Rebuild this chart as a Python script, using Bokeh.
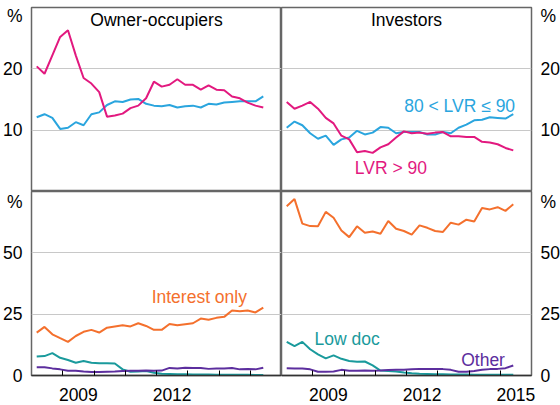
from bokeh.plotting import figure
from bokeh.layouts import gridplot
from bokeh.models import FixedTicker, CustomJSTickFormatter, Label
from bokeh.embed import file_html
from bokeh.resources import INLINE

# Quarterly observations, March 2008 to June 2015
months = [f"{y}-{m:02d}" for y in range(2008, 2016) for m in (3, 6, 9, 12)][:30]

# Owner-occupiers, LVR shares (%)
oo_lvr_gt90 = [20.4, 19.2, 22.2, 25.2, 26.3, 22.2, 18.5, 17.6, 16.2, 12.2,
               12.4, 12.7, 13.6, 14.0, 15.2, 17.9, 17.1, 17.4, 18.3, 17.4,
               17.4, 16.6, 17.3, 16.6, 16.5, 15.5, 15.2, 14.5, 14.0, 13.7]
oo_lvr_80_90 = [12.1, 12.6, 12.0, 10.2, 10.4, 11.3, 10.8, 12.6, 12.9, 14.1,
                14.7, 14.6, 15.0, 15.1, 14.3, 14.0, 13.9, 14.1, 13.7, 13.9,
                14.0, 13.7, 14.3, 14.2, 14.5, 14.6, 14.7, 14.7, 14.7, 15.5]
# Investors, LVR shares (%)
inv_lvr_gt90 = [14.6, 13.5, 14.0, 14.6, 13.5, 12.0, 11.1, 9.1, 8.5, 6.4,
                6.6, 6.3, 7.2, 7.7, 8.8, 9.8, 9.5, 9.6, 9.4, 9.6,
                9.7, 9.0, 9.0, 8.9, 8.9, 8.1, 8.0, 7.7, 7.1, 6.7]
inv_lvr_80_90 = [10.4, 11.4, 10.8, 9.5, 8.6, 9.1, 7.6, 8.5, 8.8, 9.9,
                 9.3, 9.6, 10.5, 10.4, 9.5, 9.7, 9.7, 9.7, 9.3, 9.3,
                 9.7, 9.5, 10.4, 10.9, 11.6, 11.7, 12.1, 12.0, 11.9, 12.6]
# Owner-occupiers, loan types (%)
oo_interest_only = [17.5, 19.8, 16.8, 15.2, 13.7, 16.1, 17.8, 18.6, 17.5, 19.5,
                    20.0, 20.5, 20.0, 21.3, 20.2, 18.6, 18.6, 21.0, 20.5, 20.9,
                    21.3, 23.2, 22.7, 23.5, 23.9, 26.5, 26.2, 26.5, 25.7, 27.7]
oo_low_doc = [7.7, 7.9, 9.1, 7.2, 6.3, 5.2, 5.9, 5.2, 5.0, 5.0,
              4.9, 2.5, 1.5, 1.6, 1.8, 1.1, 0.7, 0.6, 0.5, 0.5,
              0.4, 0.4, 0.4, 0.3, 0.3, 0.3, 0.3, 0.3, 0.2, 0.2]
oo_other = [3.4, 3.4, 2.9, 2.5, 1.9, 1.9, 1.6, 1.4, 1.4, 1.5,
            1.6, 1.8, 1.9, 1.9, 2.0, 1.9, 2.0, 3.1, 2.9, 3.2,
            3.1, 3.1, 2.7, 2.9, 2.9, 3.1, 2.5, 2.6, 2.5, 3.2]
# Investors, loan types (%)
inv_interest_only = [69.0, 71.9, 61.9, 60.9, 60.8, 66.7, 64.3, 59.1, 56.4, 60.8,
                     58.2, 58.7, 57.8, 63.0, 59.8, 58.9, 57.4, 61.2, 60.2, 58.9,
                     58.5, 62.3, 61.5, 63.5, 62.8, 68.3, 67.7, 68.6, 67.1, 69.8]
inv_low_doc = [13.7, 12.0, 13.7, 10.7, 8.6, 7.0, 8.2, 6.8, 5.9, 5.6,
               5.7, 4.1, 2.0, 1.8, 1.6, 1.2, 0.9, 0.7, 0.6, 0.5,
               0.5, 0.4, 0.4, 0.4, 0.3, 0.3, 0.3, 0.3, 0.3, 0.3]
inv_other = [3.0, 2.9, 2.9, 2.5, 1.5, 1.5, 1.6, 2.3, 1.9, 1.9,
             2.0, 1.9, 2.0, 2.2, 2.3, 2.3, 2.5, 2.7, 2.7, 2.7,
             2.6, 2.3, 1.5, 1.5, 1.8, 2.3, 2.6, 2.7, 3.0, 4.1]

top_ticks = [10, 20]
bottom_ticks = [0, 25, 50]
year_ticks = list(range(2009, 2016))

x = [int(s[:4]) + (int(s[5:]) - 1) / 12 for s in months]

PINK = "#E2197F"
BLUE = "#2AA5DE"
ORANGE = "#F4702D"
TEAL = "#1A9A9C"
PURPLE = "#5C2E9E"
FONT = "Liberation Sans"
FS = "17.5px"


def make_fig(ymax, grid_ticks, pct_pos, side, xlabels):
    bottom = xlabels is not None
    p = figure(frame_width=250, frame_height=184, x_range=(2008, 2016), y_range=(0, ymax),
               output_backend="svg", toolbar_location=None,
               x_axis_location="below" if bottom else None, y_axis_location=side,
               min_border=0,
               min_border_left=31 if side == "left" else 0,
               min_border_right=27 if side == "right" else 0,
               min_border_bottom=26 if bottom else 0,
               min_border_top=0 if bottom else 7)
    p.outline_line_color = "#666666"
    p.outline_line_width = 1.5
    p.background_fill_color = "white"
    p.border_fill_color = "white"
    ya = p.yaxis[0]
    ya.ticker = FixedTicker(ticks=grid_ticks + [pct_pos])
    ya.formatter = CustomJSTickFormatter(args=dict(pct=pct_pos),
                                         code="return Math.abs(tick - pct) < 0.01 ? '%' : tick.toFixed(0)")
    ya.major_tick_line_color = None
    ya.minor_tick_line_color = None
    ya.axis_line_color = None
    ya.major_label_text_font = FONT
    ya.major_label_text_font_size = FS
    ya.major_label_text_color = "black"
    ya.major_label_standoff = 3
    p.ygrid.ticker = FixedTicker(ticks=grid_ticks)
    p.ygrid.grid_line_color = "#c8c8c8"
    p.ygrid.grid_line_width = 1
    p.xgrid.visible = False
    if bottom:
        xa = p.xaxis[0]
        xa.ticker = FixedTicker(ticks=[yr + 0.5 for yr in xlabels], minor_ticks=year_ticks)
        xa.formatter = CustomJSTickFormatter(code="return Math.floor(tick).toString()")
        xa.major_tick_line_color = None
        xa.minor_tick_in = 5
        xa.minor_tick_out = 0
        xa.minor_tick_line_color = "black"
        xa.minor_tick_line_width = 1
        xa.axis_line_color = "#333333"
        xa.axis_line_width = 1.5
        xa.major_label_text_font = FONT
        xa.major_label_text_font_size = FS
        xa.major_label_text_color = "black"
        xa.major_label_standoff = 6
    return p


def add_label(p, text, lx, ly, color="black"):
    p.add_layout(Label(x=lx, y=ly, text=text, text_align="center", text_baseline="middle",
                       text_font=FONT, text_font_size=FS, text_color=color))


p1 = make_fig(30, top_ticks, 28.6, "left", None)
p2 = make_fig(30, top_ticks, 28.6, "right", None)
p3 = make_fig(75, bottom_ticks, 72.0, "left", [2009, 2012])
p4 = make_fig(75, bottom_ticks, 72.0, "right", [2009, 2012, 2015])

LW = 2
p1.line(x, oo_lvr_80_90, line_color=BLUE, line_width=LW)
p1.line(x, oo_lvr_gt90, line_color=PINK, line_width=LW)
p2.line(x, inv_lvr_80_90, line_color=BLUE, line_width=LW)
p2.line(x, inv_lvr_gt90, line_color=PINK, line_width=LW)
p3.line(x, oo_low_doc, line_color=TEAL, line_width=LW)
p3.line(x, oo_other, line_color=PURPLE, line_width=LW)
p3.line(x, oo_interest_only, line_color=ORANGE, line_width=LW)
p4.line(x, inv_low_doc, line_color=TEAL, line_width=LW)
p4.line(x, inv_other, line_color=PURPLE, line_width=LW)
p4.line(x, inv_interest_only, line_color=ORANGE, line_width=LW)

add_label(p1, "Owner-occupiers", 2012.0, 27.9)
add_label(p2, "Investors", 2012.0, 27.9)
add_label(p2, "80 < LVR ≤ 90", 2013.7, 14.0, BLUE)
add_label(p2, "LVR > 90", 2011.5, 3.9, PINK)
add_label(p3, "Interest only", 2013.37, 32.2, ORANGE)
add_label(p4, "Low doc", 2010.1, 14.7, TEAL)
add_label(p4, "Other", 2014.45, 6.5, PURPLE)

grid = gridplot([[p1, p2], [p3, p4]], toolbar_location=None)

open("out.html", "w").write(file_html(grid, INLINE))
